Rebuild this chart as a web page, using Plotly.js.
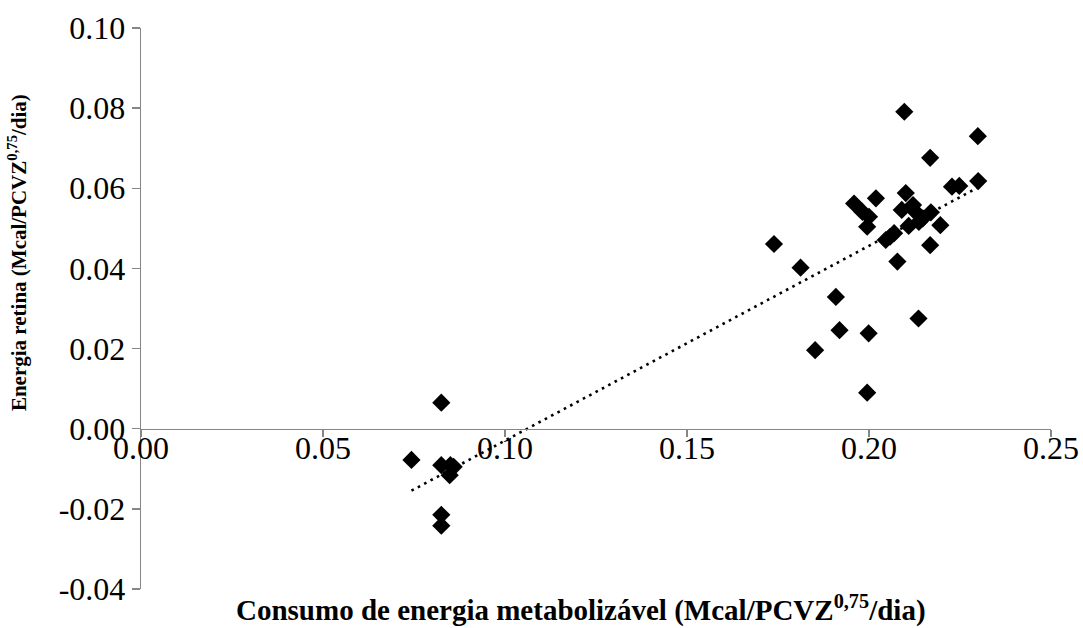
<!DOCTYPE html>
<html>
<head>
<meta charset="utf-8">
<script src="https://cdn.plot.ly/plotly-3.0.1.min.js"></script>
<style>html,body{margin:0;padding:0;background:#fff;}#chart{width:1083px;height:628px;}</style>
</head>
<body>
<div id="chart"></div>
<script>
// Consumo de energia metabolizável (x) and energia retina (y), Mcal/PCVZ^0,75/dia
const consumoEM = [
  0.2097, 0.2299, 0.2168, 0.2300, 0.2228, 0.2248,
  0.1959, 0.2019, 0.1982, 0.2000, 0.1995,
  0.2101, 0.2090, 0.2109, 0.2129, 0.2148, 0.2170, 0.2137, 0.2121,
  0.2196, 0.2058, 0.2069, 0.2046, 0.2168, 0.2078,
  0.1739, 0.1812, 0.1909, 0.1919, 0.1999, 0.2136, 0.1852, 0.1995,
  0.0825, 0.0743, 0.0825, 0.0850, 0.0859, 0.0848, 0.0825, 0.0825
];
const energiaRetina = [
  0.0791, 0.0730, 0.0676, 0.0618, 0.0604, 0.0606,
  0.0562, 0.0575, 0.0541, 0.0529, 0.0504,
  0.0588, 0.0546, 0.0506, 0.0540, 0.0525, 0.0540, 0.0516, 0.0558,
  0.0508, 0.0479, 0.0488, 0.0471, 0.0458, 0.0417,
  0.0461, 0.0402, 0.0329, 0.0246, 0.0238, 0.0275, 0.0196, 0.0090,
  0.0065, -0.0078, -0.0091, -0.0091, -0.0095, -0.0116, -0.0215, -0.0242
];
const xTickVals = [0, 0.05, 0.10, 0.15, 0.20, 0.25];
const xTickText = ["0.00", "0.05", "0.10", "0.15", "0.20", "0.25"];
const yTickVals = [-0.04, -0.02, 0, 0.02, 0.04, 0.06, 0.08, 0.10];
const yTickText = ["-0.04", "-0.02", "0.00", "0.02", "0.04", "0.06", "0.08", "0.10"];
const xTitle = "<b>Consumo de energia metabolizável (Mcal/PCVZ<sup>0,75</sup>/dia)</b>";
const yTitle = "<b>Energia retina (Mcal/PCVZ<sup>0,75</sup>/dia)</b>";

// Linear trendline (least squares) from the data
const n = consumoEM.length;
let sx = 0, sy = 0, sxx = 0, sxy = 0;
for (let i = 0; i < n; i++) {
  sx += consumoEM[i]; sy += energiaRetina[i];
  sxx += consumoEM[i] * consumoEM[i]; sxy += consumoEM[i] * energiaRetina[i];
}
const slope = (n * sxy - sx * sy) / (n * sxx - sx * sx);
const intercept = (sy - slope * sx) / n;
const xMin = Math.min(...consumoEM), xMax = Math.max(...consumoEM);
const trendX = [xMin, xMax];
const trendY = trendX.map(v => intercept + slope * v);

const axisColor = '#868686';
const font = {family: '"Liberation Serif", "Times New Roman", serif', color: '#000'};

const traces = [
  {
    x: trendX, y: trendY, type: 'scatter', mode: 'lines',
    line: {color: '#000', width: 2.6, dash: '2.6px,4.6px'},
    hoverinfo: 'skip', showlegend: false
  },
  {
    x: consumoEM, y: energiaRetina, type: 'scatter', mode: 'markers',
    marker: {symbol: 'diamond', size: 14, color: '#000'},
    showlegend: false
  }
];

const layout = {
  width: 1083, height: 628,
  margin: {l: 141, r: 32, t: 28, b: 39},
  paper_bgcolor: '#fff', plot_bgcolor: '#fff',
  font: font,
  showlegend: false,
  xaxis: {
    range: [0, 0.25], tickvals: xTickVals, ticktext: xTickText,
    anchor: 'free', position: 0.04 / 0.14,
    showline: true, linecolor: axisColor, linewidth: 1.3,
    ticks: 'outside', ticklen: 7, tickcolor: axisColor, tickwidth: 1.3,
    ticklabelstandoff: -16,
    showgrid: false, zeroline: false,
    tickfont: {family: font.family, size: 32, color: '#000'}
  },
  yaxis: {
    range: [-0.04, 0.10], tickvals: yTickVals, ticktext: yTickText,
    showline: true, linecolor: axisColor, linewidth: 1.3,
    ticks: 'outside', ticklen: 8, tickcolor: axisColor, tickwidth: 1.3,
    showgrid: false, zeroline: false,
    tickfont: {family: font.family, size: 32, color: '#000'}
  },
  annotations: [
    {text: xTitle, xref: 'paper', yref: 'paper', x: 0.4835, y: -0.034,
     xanchor: 'center', yanchor: 'middle', showarrow: false,
     font: {family: font.family, size: 29, color: '#000'}},
    {text: yTitle, xref: 'paper', yref: 'paper', x: -0.135, y: 0.599,
     xanchor: 'center', yanchor: 'middle', showarrow: false, textangle: -90,
     font: {family: font.family, size: 21, color: '#000'}}
  ]
};

Plotly.newPlot('chart', traces, layout, {displayModeBar: false, staticPlot: true});
</script>
</body>
</html>
